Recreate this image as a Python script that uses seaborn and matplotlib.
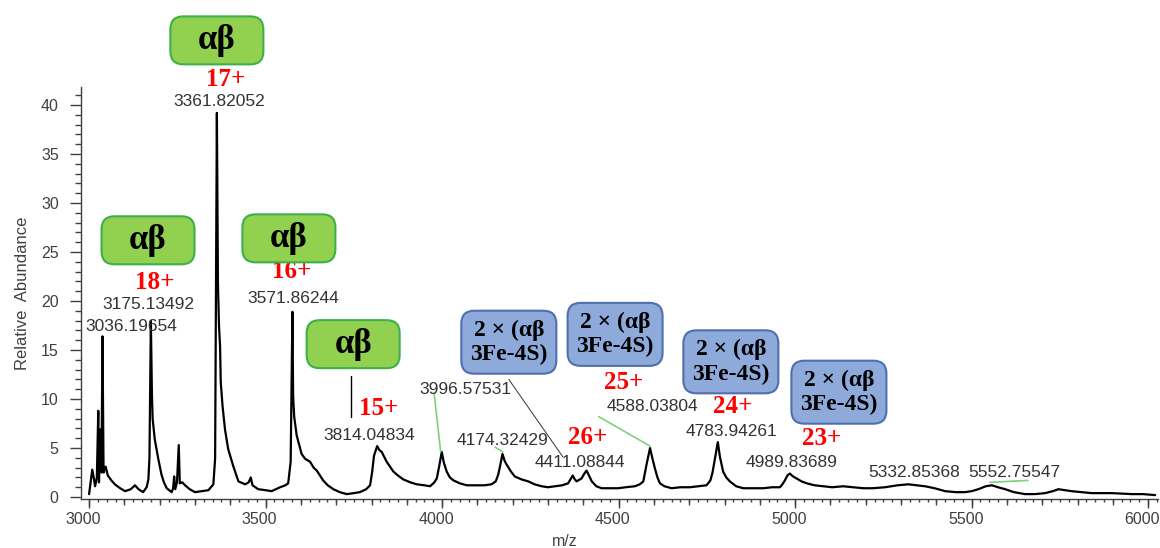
import numpy as np
import pandas as pd
import matplotlib
matplotlib.use("Agg")
import matplotlib.pyplot as plt
import seaborn as sns
from matplotlib.patches import FancyBboxPatch
from matplotlib.transforms import IdentityTransform, ScaledTranslation
from matplotlib.ticker import MultipleLocator, NullLocator

# ---------------- data ----------------
mz = [3000, 3009, 3014, 3017, 3022, 3026, 3028, 3032, 3035, 3038, 3041, 3047, 3053, 3063, 3073,
      3088, 3102, 3118, 3130, 3140, 3153, 3163, 3168, 3171, 3175, 3178, 3180, 3186, 3196, 3205,
      3212, 3220, 3234, 3238, 3241, 3244, 3249, 3254, 3257, 3264, 3272, 3285, 3300, 3320, 3338,
      3352, 3357, 3362, 3365, 3368, 3371, 3373, 3378, 3385, 3394, 3408, 3423, 3442, 3452, 3458,
      3463, 3479, 3500, 3517, 3541, 3556, 3564, 3571, 3576, 3578, 3581, 3588, 3602, 3612, 3626,
      3636, 3645, 3663, 3676, 3692, 3710, 3730, 3750, 3767, 3785, 3796, 3802, 3807, 3816, 3822,
      3829, 3843, 3862, 3875, 3890, 3910, 3928, 3950, 3966, 3978, 3985, 3992, 3999, 4005, 4013,
      4022, 4032, 4050, 4070, 4098, 4120, 4140, 4152, 4159, 4165, 4171, 4177, 4183, 4195, 4206,
      4225, 4244, 4262, 4282, 4300, 4320, 4340, 4357, 4365, 4370, 4376, 4381, 4395, 4403, 4409,
      4416, 4424, 4437, 4452, 4475, 4499, 4520, 4546, 4560, 4570, 4579, 4589, 4596, 4603, 4610,
      4617, 4630, 4650, 4675, 4702, 4725, 4749, 4760, 4766, 4775, 4781, 4787, 4796, 4805, 4815,
      4833, 4853, 4880, 4910, 4935, 4957, 4964, 4971, 4978, 4985, 4994, 5004, 5018, 5033, 5055,
      5080, 5105, 5136, 5165, 5193, 5220, 5255, 5290, 5321, 5345, 5368, 5395, 5425, 5455, 5481,
      5500, 5519, 5540, 5557, 5575, 5595, 5620, 5651, 5680, 5708, 5730, 5746, 5765, 5783, 5810,
      5840, 5870, 5897, 5925, 5954, 5985, 6020]
abundance = [0.3, 2.8, 1.8, 1.1, 2.0, 8.8, 1.5, 6.9, 2.5, 16.4, 2.5, 3.1, 2.2, 1.7, 1.3,
             0.9, 0.6, 0.8, 1.2, 0.8, 0.5, 1.0, 1.8, 4.0, 18.0, 10.5, 8.0, 5.9, 3.9, 2.3,
             1.5, 0.9, 0.5, 0.9, 2.1, 0.8, 1.5, 5.3, 1.4, 1.5, 1.2, 0.8, 0.5, 0.6, 0.7,
             1.3, 3.9, 39.2, 21.8, 17.5, 15.4, 11.7, 9.3, 6.9, 4.9, 3.2, 1.6, 1.3, 1.5, 2.0,
             1.2, 0.8, 0.7, 0.6, 1.0, 1.2, 1.4, 3.6, 18.9, 10.3, 8.2, 6.3, 4.4, 3.9, 3.6,
             3.0, 2.7, 1.7, 1.2, 0.8, 0.5, 0.3, 0.4, 0.5, 0.8, 1.2, 2.6, 4.2, 5.2, 4.8,
             4.6, 3.6, 2.6, 2.2, 1.8, 1.5, 1.3, 1.2, 1.1, 1.5, 1.9, 3.2, 4.6, 3.5, 2.6,
             2.0, 1.7, 1.4, 1.2, 1.2, 1.2, 1.3, 1.6, 2.3, 3.3, 4.4, 3.7, 3.3, 2.6, 2.1,
             1.8, 1.6, 1.3, 1.1, 1.0, 1.1, 1.2, 1.4, 1.9, 2.2, 1.8, 1.6, 1.9, 2.4, 2.7,
             2.2, 1.6, 1.1, 0.9, 0.9, 0.9, 1.0, 1.1, 1.3, 1.6, 3.3, 5.0, 3.9, 2.9, 2.0,
             1.4, 1.1, 0.9, 1.0, 1.0, 1.1, 1.2, 1.7, 2.5, 4.4, 5.6, 4.1, 2.6, 2.0, 1.6,
             1.1, 0.9, 0.9, 0.9, 1.0, 1.0, 1.3, 1.7, 2.2, 2.4, 2.1, 1.9, 1.6, 1.4, 1.2,
             1.1, 1.0, 1.1, 1.0, 0.9, 0.9, 1.0, 1.2, 1.3, 1.2, 1.1, 0.9, 0.6, 0.5, 0.5,
             0.6, 0.8, 1.1, 1.2, 1.0, 0.8, 0.5, 0.3, 0.3, 0.4, 0.6, 0.8, 0.7, 0.6, 0.5,
             0.4, 0.4, 0.4, 0.35, 0.3, 0.3, 0.2]

peak_labels = ["3361.82052", "3175.13492", "3036.19654", "3571.86244", "3814.04834",
               "3996.57531", "4174.32429", "4411.08844", "4588.03804", "4783.94261",
               "4989.83689", "5332.85368", "5552.75547"]
charge_labels = ["17+", "18+", "16+", "15+", "26+", "25+", "24+", "23+"]
monomer_label = "αβ"
dimer_label = "2 × (αβ\n3Fe-4S)"

# ---------------- layout (positions of annotations) ----------------
peak_label_pos = [(3368, 40.4), (3167, 19.6), (3119, 17.4), (3578, 20.3), (3793, 6.3),
                  (4065, 11.0), (4170, 5.8), (4391, 3.5), (4595, 9.2), (4821, 6.7),
                  (4991, 3.5), (5337, 2.55), (5620, 2.55)]
charge_pos = [(3388, 42.6), (3187, 21.9), (3575, 23.0), (3821, 9.0), (4413, 6.1),
              (4515, 11.7), (4824, 9.2), (5076, 6.0)]
monomer_box_pos = [(3362, 46.6), (3167, 26.2), (3566, 26.4), (3748, 15.6)]
dimer_box_pos = [(4189, 15.8), (4490, 16.6), (4818, 13.8), (5124, 10.7)]

sns.set_style("ticks")
plt.rcParams["font.family"] = ["Liberation Sans", "DejaVu Sans"]

fig = plt.figure(figsize=(11.6, 5.48), dpi=100)
ax = fig.add_axes([0.0698, 0.0894, 0.9285, 0.7518])

df = pd.DataFrame({"m/z": mz, "abund": abundance})
sns.lineplot(data=df, x="m/z", y="abund", ax=ax, color="black", lw=1.6,
             estimator=None, sort=False)

ax.set_xlim(2977, 6028)
ax.set_ylim(-0.2, 41.84)
sns.despine(ax=ax)
for s in ("left", "bottom"):
    ax.spines[s].set_color("#404040")
    ax.spines[s].set_linewidth(1.0)

ax.xaxis.set_major_locator(MultipleLocator(500))
ax.xaxis.set_minor_locator(MultipleLocator(25))
ax.yaxis.set_major_locator(MultipleLocator(5))
ax.yaxis.set_minor_locator(MultipleLocator(1))
ax.tick_params(axis="both", which="both", width=1, color="#404040",
               labelsize=11.5, labelcolor="#404040")
ax.tick_params(axis="x", which="major", length=6.5, pad=3)
ax.tick_params(axis="x", which="minor", length=2.2)
ax.tick_params(axis="y", which="major", length=8, pad=8)
ax.tick_params(axis="y", which="minor", length=4.3)

# medium ticks every 100 on the m/z axis
sec = ax.secondary_xaxis("bottom")
sec.xaxis.set_major_locator(MultipleLocator(100))
sec.xaxis.set_minor_locator(NullLocator())
sec.tick_params(axis="x", which="major", length=4.3, width=1, color="#404040",
                labelbottom=False)
sec.spines["bottom"].set_visible(False)

shift = ScaledTranslation(-6 / 100, 0, fig.dpi_scale_trans)
for lab in ax.get_xticklabels():
    lab.set_transform(lab.get_transform() + shift)
ax.set_xlabel("m/z", fontsize=11.5, color="#404040")
ax.xaxis.set_label_coords(0.449, -0.085)
ax.set_ylabel("Relative  Abundance", fontsize=12, color="#404040", labelpad=8)

# peak m/z labels
for txt, (x, y) in zip(peak_labels, peak_label_pos):
    ax.text(x, y, txt, ha="center", va="center", fontsize=12.5, color="#333333",
            clip_on=False)

# charge-state labels
for txt, (x, y) in zip(charge_labels, charge_pos):
    ax.text(x, y, txt, ha="center", va="center", fontsize=18, color="#ff0000",
            family=["Liberation Serif"], weight="bold", clip_on=False)


def label_box(x, y, text, w, h, fc, ec, fs, ls):
    cx, cy = ax.transData.transform((x, y))
    patch = FancyBboxPatch((cx - w / 2, cy - h / 2), w, h,
                           boxstyle="round,pad=0,rounding_size=13",
                           transform=IdentityTransform(), fc=fc, ec=ec, lw=1.5,
                           clip_on=False, zorder=5)
    ax.add_artist(patch)
    ax.text(x, y, text, ha="center", va="center", fontsize=fs, color="black",
            family=["Liberation Serif"], weight="bold", linespacing=ls,
            clip_on=False, zorder=6)


for (x, y) in monomer_box_pos:
    label_box(x, y, monomer_label, 93, 48, "#92d050", "#3cb04a", 25, 1.0)
for (x, y) in dimer_box_pos:
    label_box(x, y, dimer_label, 95, 63, "#8eaadb", "#4f6fb0", 17, 1.2)

# leader lines
ax.plot([3742, 3742], [8.2, 12.4], color="black", lw=1.0)
ax.plot([3977, 3996], [10.7, 4.6], color="#7fd07f", lw=1.2)
ax.plot([4150, 4172], [5.1, 4.6], color="#7fd07f", lw=1.2)
ax.plot([4189, 4342], [12.0, 4.1], color="#333333", lw=0.7)
ax.plot([4444, 4589], [8.2, 5.2], color="#7fd07f", lw=1.2)
ax.plot([5552, 5660], [1.5, 1.7], color="#7fd07f", lw=1.2)

fig.savefig("out.png", dpi=100)
